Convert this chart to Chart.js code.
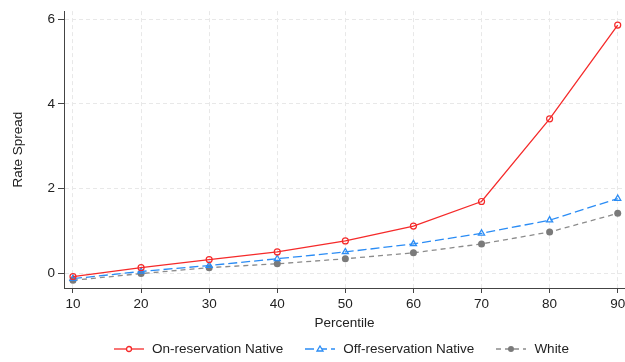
<!DOCTYPE html>
<html>
<head>
<meta charset="utf-8">
<script src="https://cdn.jsdelivr.net/npm/chart.js@4.4.1/dist/chart.umd.min.js"></script>
<style>
  html, body { margin: 0; padding: 0; background: #fff; }
  #wrap { position: relative; width: 625px; height: 362px; overflow: hidden; }
  #legend { position: absolute; left: 114px; top: 341px; display: flex; align-items: center;
            font-family: 'Liberation Sans', Arial, Helvetica, sans-serif; font-size: 13.5px; color: #222; white-space: nowrap; }
  .item { display: flex; align-items: center; margin-right: 22px; }
  .item canvas { margin-right: 8px; }
</style>
</head>
<body>
<div id="wrap">
  <canvas id="myChart" width="625" height="362"></canvas>
  <div id="legend"></div>
</div>
<script>
// percentiles and rate spread per group
const percentiles = [10, 20, 30, 40, 50, 60, 70, 80, 90];
const onReservation = [-0.07, 0.14, 0.33, 0.51, 0.77, 1.12, 1.70, 3.65, 5.86];
const offReservation = [-0.12, 0.05, 0.19, 0.35, 0.51, 0.70, 0.95, 1.26, 1.77];
const white = [-0.16, 0.00, 0.14, 0.23, 0.35, 0.49, 0.70, 0.98, 1.42];
const yTicks = [0, 2, 4, 6];

const FONT = 'Liberation Sans, Arial, Helvetica, sans-serif';
const RED = '#f52a2a', BLUE = '#2a8cf5', GRAY = '#8c8c8c';

function toPoints(vals) {
    return percentiles.map(function(p, i) { return { x: p, y: vals[i] }; });
}

// line + marker sample for the html legend
function legendSample(color, dash, marker) {
    const c = document.createElement('canvas');
    c.width = 30; c.height = 10;
    const g = c.getContext('2d');
    g.strokeStyle = color;
    g.lineWidth = 1.3;
    g.setLineDash(dash);
    g.beginPath(); g.moveTo(0, 5); g.lineTo(30, 5); g.stroke();
    g.setLineDash([]);
    if (marker === 'circle') {
        g.fillStyle = '#fff';
        g.beginPath(); g.arc(15, 5, 2.5, 0, Math.PI * 2); g.fill(); g.stroke();
    } else if (marker === 'triangle') {
        g.fillStyle = '#fff';
        g.beginPath(); g.moveTo(15, 2); g.lineTo(18, 7); g.lineTo(12, 7); g.closePath(); g.fill(); g.stroke();
    } else {
        g.fillStyle = '#7a7a7a';
        g.beginPath(); g.arc(15, 5, 3, 0, Math.PI * 2); g.fill();
    }
    return c;
}

const ctx = document.getElementById('myChart').getContext('2d');
const myChart = new Chart(ctx, {
    type: 'line',
    data: {
        datasets: [{
            label: 'On-reservation Native',
            data: toPoints(onReservation),
            borderColor: RED,
            borderWidth: 1.3,
            pointStyle: 'circle',
            pointRadius: 3,
            pointBorderWidth: 1.2,
            pointBorderColor: RED,
            pointBackgroundColor: 'rgba(255,255,255,0)'
        }, {
            label: 'Off-reservation Native',
            data: toPoints(offReservation),
            borderColor: BLUE,
            borderWidth: 1.3,
            borderDash: [9, 4],
            pointStyle: 'triangle',
            pointRadius: 3.5,
            pointBorderWidth: 1.3,
            pointBorderColor: BLUE,
            pointBackgroundColor: 'rgba(255,255,255,0)'
        }, {
            label: 'White',
            data: toPoints(white),
            borderColor: GRAY,
            borderWidth: 1.3,
            borderDash: [5, 4],
            pointStyle: 'circle',
            pointRadius: 3.5,
            pointBorderWidth: 0,
            pointBackgroundColor: '#7a7a7a'
        }]
    },
    options: {
        responsive: false,
        animation: false,
        clip: false,
        layout: { autoPadding: false, padding: { left: 0, right: 0, top: 8, bottom: 31 } },
        plugins: {
            tooltip: { enabled: false },
            legend: { display: false }
        },
        scales: {
            x: {
                type: 'linear',
                min: 8.68,
                max: 91.07,
                afterBuildTicks: function(axis) {
                    axis.ticks = percentiles.map(function(v) { return { value: v }; });
                },
                afterFit: function(axis) {
                    axis.height = 43;
                    axis.paddingLeft = 0;
                    axis.paddingRight = 0;
                },
                ticks: { color: '#222', font: { family: FONT, size: 13.5 }, padding: 3, maxRotation: 0 },
                grid: { color: '#e8e8e8', tickLength: 5, tickColor: '#444' },
                border: { color: '#444', width: 1, dash: [4, 3] },
                title: { display: true, text: 'Percentile', color: '#222', font: { family: FONT, size: 13.5 }, padding: 0 }
            },
            y: {
                min: -0.34,
                max: 6.19,
                afterBuildTicks: function(axis) {
                    axis.ticks = yTicks.map(function(v) { return { value: v }; });
                },
                afterFit: function(axis) { axis.width = 64; },
                ticks: { color: '#222', font: { family: FONT, size: 13.5 }, padding: 3 },
                grid: { color: '#e8e8e8', tickLength: 6, tickColor: '#444' },
                border: { color: '#444', width: 1, dash: [4, 3] },
                title: { display: true, text: 'Rate Spread', color: '#222', font: { family: FONT, size: 13.5 }, padding: { top: 10, bottom: 0 } }
            }
        }
    }
});

// html legend under the plot
const legendEl = document.getElementById('legend');
const legendMarks = [[RED, [], 'circle'], [BLUE, [9, 4], 'triangle'], [GRAY, [5, 4], 'dot']];
myChart.data.datasets.forEach(function(ds, i) {
    const item = document.createElement('div');
    item.className = 'item';
    item.appendChild(legendSample(legendMarks[i][0], legendMarks[i][1], legendMarks[i][2]));
    const label = document.createElement('span');
    label.textContent = ds.label;
    item.appendChild(label);
    legendEl.appendChild(item);
});
</script>
</body>
</html>
